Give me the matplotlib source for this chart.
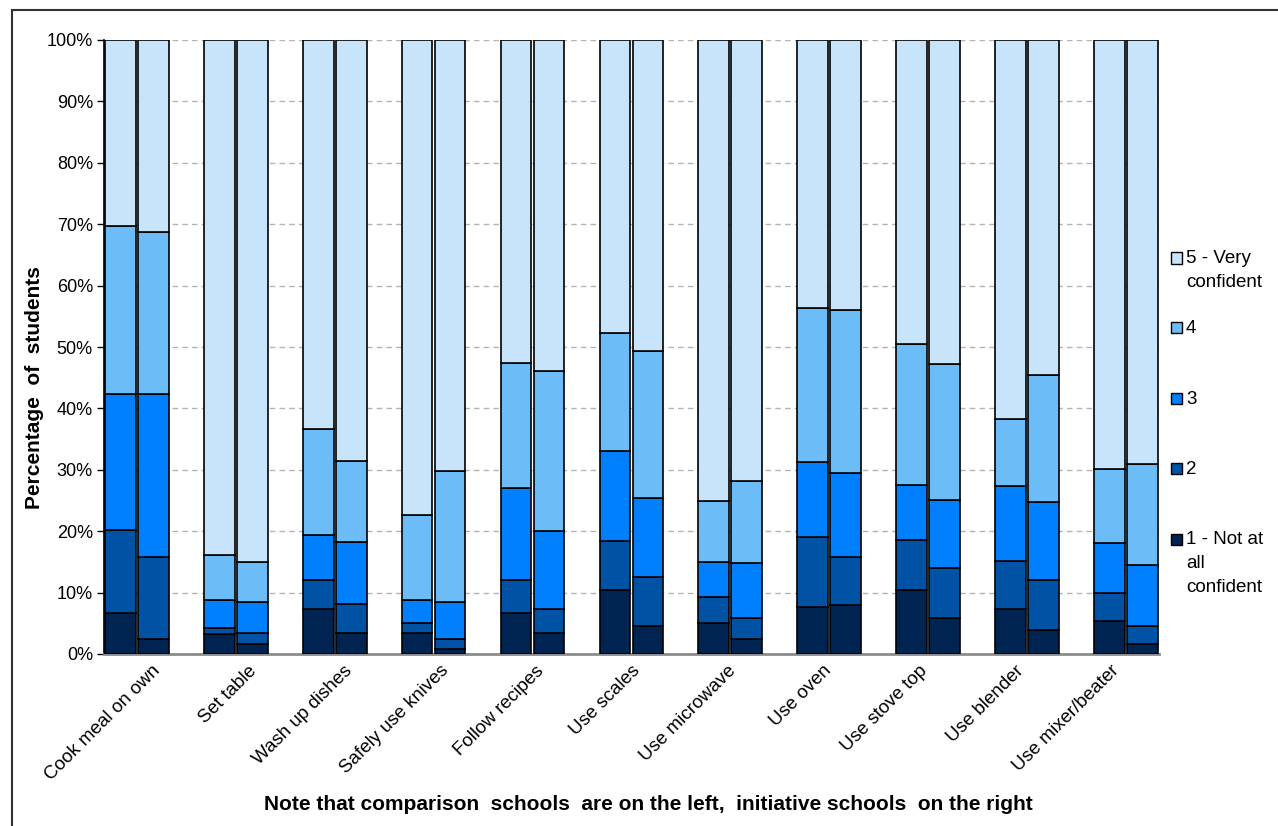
import numpy as np
import matplotlib.pyplot as plt
from matplotlib.patches import Rectangle

plt.rcParams['font.family'] = ['Liberation Sans', 'DejaVu Sans']

activities = ['Cook meal on own', 'Set table', 'Wash up dishes', 'Safely use knives',
              'Follow recipes', 'Use scales', 'Use microwave', 'Use oven',
              'Use stove top', 'Use blender', 'Use mixer/beater']
levels = ['1 - Not at\nall\nconfident', '2', '3', '4', '5 - Very\nconfident']
colors = ['#002452', '#0052A4', '#0080FF', '#6CBCF7', '#C8E4FB']

# comparison schools (left bar), % of students per confidence level
comp_1 = [6.6, 3.2, 7.4, 3.4, 6.6, 10.4, 5.0, 7.7, 10.4, 7.4, 5.3]
comp_2 = [13.6, 1.0, 4.6, 1.6, 5.5, 8.0, 4.3, 11.4, 8.2, 7.7, 4.6]
comp_3 = [22.1, 4.6, 7.4, 3.8, 15.0, 14.6, 5.7, 12.1, 9.0, 12.3, 8.2]
comp_4 = [27.4, 7.3, 17.2, 13.9, 20.3, 19.3, 9.9, 25.1, 22.9, 10.8, 12.0]
comp_5 = [30.3, 83.9, 63.4, 77.3, 52.6, 47.7, 75.1, 43.7, 49.5, 61.8, 69.9]

# initiative schools (right bar)
init_1 = [2.5, 1.7, 3.4, 0.8, 3.4, 4.5, 2.5, 8.0, 5.8, 3.9, 1.7]
init_2 = [13.3, 1.7, 4.8, 1.7, 4.0, 8.1, 3.3, 7.8, 8.2, 8.1, 2.8]
init_3 = [26.5, 5.1, 10.1, 6.0, 12.6, 12.8, 9.0, 13.7, 11.1, 12.8, 10.0]
init_4 = [26.4, 6.5, 13.1, 21.3, 26.1, 23.9, 13.3, 26.5, 22.1, 20.7, 16.4]
init_5 = [31.3, 85.0, 68.6, 70.2, 53.9, 50.7, 71.9, 44.0, 52.8, 54.5, 69.1]

comp = [comp_1, comp_2, comp_3, comp_4, comp_5]
init = [init_1, init_2, init_3, init_4, init_5]

W, H = 1278, 826
fig = plt.figure(figsize=(W / 100, H / 100), dpi=100)
ax = fig.add_axes([104 / W, 1 - 654 / H, (1158.7 - 104) / W, (654 - 40) / H])

n = len(activities)
comp_x = 3 * np.arange(n) + 0.5
init_x = comp_x + 1

b_c = np.zeros(n)
b_i = np.zeros(n)
for k in range(5):
    ax.bar(comp_x, comp[k], 0.93, bottom=b_c, color=colors[k], edgecolor='black', lw=1.2, zorder=3)
    ax.bar(init_x, init[k], 0.93, bottom=b_i, color=colors[k], edgecolor='black', lw=1.2, zorder=3)
    b_c += np.array(comp[k])
    b_i += np.array(init[k])

ax.set_xlim(0, 3 * n - 1)
ax.set_ylim(0, 100)
ax.set_yticks(np.arange(0, 101, 10))
ax.set_yticklabels([f'{v}%' for v in range(0, 101, 10)], fontsize=13)
ax.yaxis.grid(True, ls=(0, (4, 3)), color='#b4b4b4', lw=1)
ax.set_axisbelow(True)

tick_pos = (np.arange(n) + 0.5) * (3 * n - 1) / n
ax.set_xticks(tick_pos)
ax.set_xticklabels(activities, rotation=45, ha='right', va='top',
                   rotation_mode='anchor', fontsize=13.5)
ax.tick_params(axis='x', length=0, pad=6)
ax.tick_params(axis='y', length=5, width=1, pad=3)

for s in ['top', 'right']:
    ax.spines[s].set_visible(False)
ax.spines['left'].set_color('black')
ax.spines['left'].set_linewidth(1.2)
ax.spines['bottom'].set_color('#8c8c8c')
ax.spines['bottom'].set_linewidth(2)

fig.text(35 / W, 1 - 388 / H, 'Percentage  of  students', rotation=90,
         ha='center', va='center', fontsize=15, fontweight='bold')
fig.text(648 / W, 1 - 805 / H,
         'Note that comparison  schools  are on the left,  initiative schools  on the right',
         ha='center', va='center', fontsize=15, fontweight='bold')

# legend on the right
leg_y = [539, 468.5, 398.5, 328, 258]
for k in range(4, -1, -1):
    y = leg_y[k]
    fig.add_artist(Rectangle((1171 / W, 1 - (y + 5.5) / H), 11 / W, 11 / H,
                             transform=fig.transFigure, facecolor=colors[k],
                             edgecolor='black', lw=1))
    fig.text(1186 / W, 1 - (y - 8) / H, levels[k], ha='left', va='top',
             fontsize=13.5, linespacing=1.55)

# frame around the chart
fig.add_artist(Rectangle((12 / W, -0.05), 1.1, 1 - 10 / H + 0.05,
                         transform=fig.transFigure, fill=False,
                         edgecolor='#333333', lw=1.5))

fig.savefig('out.png', dpi=100)
